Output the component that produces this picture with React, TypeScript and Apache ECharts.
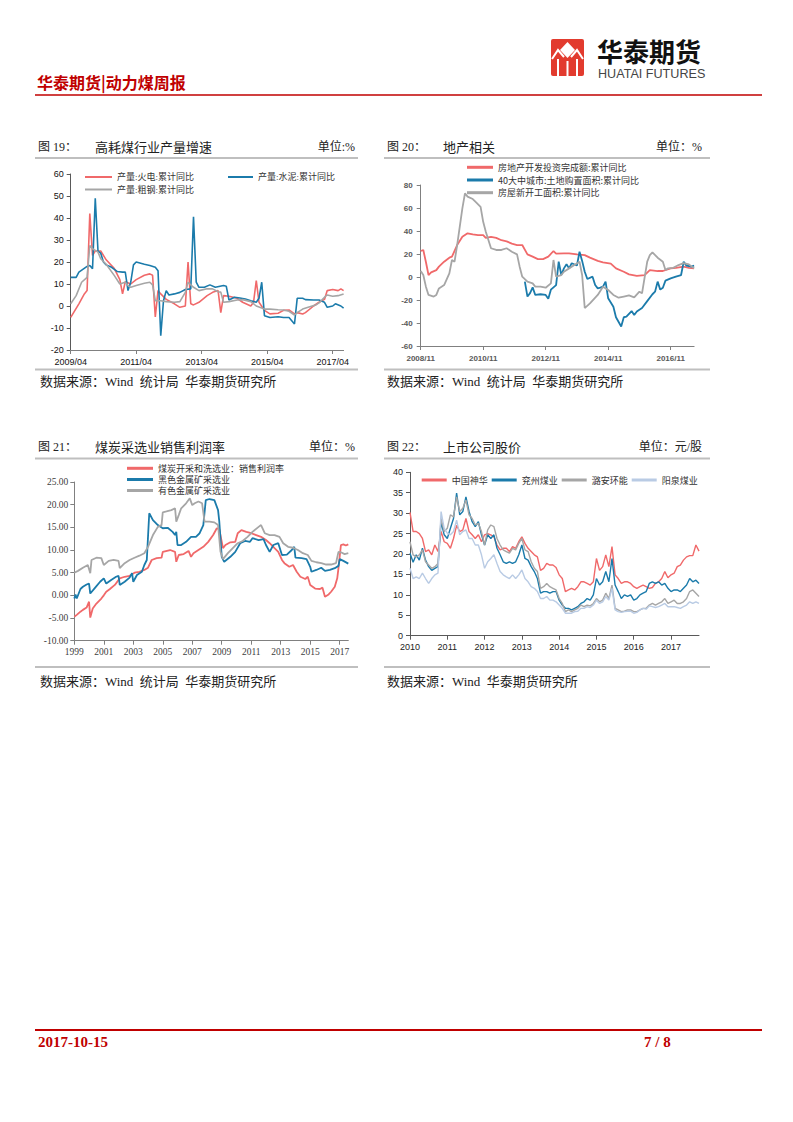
import React, { useEffect, useRef } from "react";
import * as echarts from "echarts";

// ---------------- Figure 19: 高耗煤行业产量增速 ----------------
const fig19Base = "2009/04";
const fig19XTicks = ["2009/04", "2011/04", "2013/04", "2015/04", "2017/04"];
const fig19Power: [string, number][] = [
  ["2009/04", -5.2], ["2009/07", 1], ["2009/09", 5.5], ["2009/10", 7], ["2009/11", 42], ["2009/12", 23],
  ["2010/01", 25], ["2010/03", 25], ["2010/05", 21], ["2010/08", 17], ["2010/10", 12], ["2010/11", 5.5],
  ["2010/12", 11], ["2011/02", 10], ["2011/04", 12], ["2011/07", 14], ["2011/09", 14.6], ["2011/10", 14],
  ["2011/11", -5], ["2011/12", 7], ["2012/01", 5.5], ["2012/03", 3], ["2012/06", 1], ["2012/08", -0.6],
  ["2012/10", 0], ["2012/11", 20], ["2012/12", 1], ["2013/01", 0.5], ["2013/03", 1.7], ["2013/06", 4.7],
  ["2013/08", 6.2], ["2013/10", 7], ["2013/11", -3], ["2013/12", 4.7], ["2014/02", 4.4], ["2014/05", 3.5],
  ["2014/07", 1.7], ["2014/10", 0], ["2014/11", 1.7], ["2014/12", 11.6], ["2015/01", 1.7], ["2015/03", -2],
  ["2015/05", -3.6], ["2015/08", -3.3], ["2015/10", -2], ["2015/12", -1.8], ["2016/02", -3.6], ["2016/03", -3],
  ["2016/05", -3.6], ["2016/06", -3], ["2016/09", 0], ["2016/11", 1.7], ["2017/01", 3], ["2017/02", 7],
  ["2017/04", 7.5], ["2017/06", 7], ["2017/07", 7.8], ["2017/08", 7],
];
const fig19Cement: [string, number][] = [
  ["2009/04", 13], ["2009/06", 13], ["2009/07", 15.4], ["2009/10", 18], ["2009/11", 18.4], ["2009/12", 17],
  ["2010/01", 49], ["2010/02", 25], ["2010/03", 24], ["2010/04", 20], ["2010/05", 18.7], ["2010/07", 17.6],
  ["2010/09", 15.7], ["2010/11", 15.4], ["2010/12", 15.4], ["2011/01", 7], ["2011/02", 10.8], ["2011/03", 18.7],
  ["2011/04", 20], ["2011/07", 19], ["2011/09", 18.4], ["2011/11", 17.6], ["2011/12", 16], ["2012/01", -13.5],
  ["2012/02", 2.4], ["2012/03", 7], ["2012/04", 5], ["2012/06", 5.5], ["2012/08", 6.2], ["2012/10", 7.5],
  ["2012/12", 7.8], ["2013/01", 40.5], ["2013/02", 10.8], ["2013/03", 8.5], ["2013/05", 8.5], ["2013/07", 9.6],
  ["2013/09", 8.5], ["2013/12", 9.3], ["2014/01", 9], ["2014/02", 2.7], ["2014/04", 4], ["2014/06", 3.6],
  ["2014/08", 3.2], ["2014/10", 2.4], ["2014/12", 1.7], ["2015/01", 3.5], ["2015/02", 10.8], ["2015/03", -4.4],
  ["2015/05", -5.2], ["2015/08", -4.9], ["2015/10", -5.2], ["2015/12", -5.2], ["2016/02", -8.2], ["2016/03", 3.5],
  ["2016/05", 3.5], ["2016/06", 2.9], ["2016/09", 2.7], ["2016/11", 2.7], ["2017/01", 1.7], ["2017/02", -0.6],
  ["2017/04", 0], ["2017/05", 1], ["2017/07", 0], ["2017/08", -1],
];
const fig19Steel: [string, number][] = [
  ["2009/04", 1], ["2009/06", 4.7], ["2009/08", 10.8], ["2009/10", 13], ["2009/11", 27.5], ["2009/12", 26],
  ["2010/02", 24.5], ["2010/03", 21.5], ["2010/05", 19], ["2010/08", 13.8], ["2010/10", 10], ["2010/12", 10.8],
  ["2011/01", 9.3], ["2011/02", 8.5], ["2011/04", 9.3], ["2011/07", 10.3], ["2011/09", 10.8], ["2011/10", 9.6],
  ["2011/11", 2.4], ["2012/01", 2.4], ["2012/03", 2], ["2012/06", 1.7], ["2012/08", 2], ["2012/10", 6.2],
  ["2012/11", 10.8], ["2013/01", 8.5], ["2013/03", 7], ["2013/06", 7.8], ["2013/08", 7.8], ["2013/10", 6.5],
  ["2013/11", 6.3], ["2013/12", 1.7], ["2014/02", 2], ["2014/05", 2.7], ["2014/07", 2.9], ["2014/10", 2],
  ["2014/12", 0], ["2015/03", -1.4], ["2015/05", -1.4], ["2015/08", -1.7], ["2015/10", -1.8], ["2015/12", -2.4],
  ["2016/02", -4.1], ["2016/03", -3], ["2016/05", -1.4], ["2016/07", -0.6], ["2016/10", 0.6], ["2016/11", 1.4],
  ["2017/01", 4], ["2017/02", 5], ["2017/04", 4.4], ["2017/06", 4.7], ["2017/08", 5.5],
];

// ---------------- Figure 20: 地产相关 ----------------
const fig20Base = "2008/11";
const fig20XTicks = ["2008/11", "2010/11", "2012/11", "2014/11", "2016/11"];
const fig20Invest: [string, number][] = [
  ["2008/11", 22.6], ["2008/12", 23.5], ["2009/01", 13], ["2009/02", 1.7], ["2009/03", 4], ["2009/05", 6],
  ["2009/06", 9], ["2009/08", 13.3], ["2009/10", 16.8], ["2009/11", 17.7], ["2010/01", 27.8], ["2010/03", 35],
  ["2010/05", 38], ["2010/07", 37], ["2010/09", 36.5], ["2010/11", 36.5], ["2010/12", 34], ["2011/02", 34.8],
  ["2011/04", 34], ["2011/06", 32], ["2011/08", 31], ["2011/10", 29], ["2011/12", 27.8], ["2012/02", 27.8],
  ["2012/04", 19.7], ["2012/06", 17.7], ["2012/08", 15.6], ["2012/10", 15.6], ["2012/12", 17.7], ["2013/02", 22.6],
  ["2013/03", 20.3], ["2013/06", 20.6], ["2013/08", 20.6], ["2013/11", 19.7], ["2014/02", 19], ["2014/04", 16.8],
  ["2014/07", 14], ["2014/09", 12.8], ["2014/12", 11.6], ["2015/02", 7.5], ["2015/05", 4.6], ["2015/07", 2.3],
  ["2015/10", 0.9], ["2016/01", 1.7], ["2016/03", 6], ["2016/06", 5.2], ["2016/08", 5.2], ["2016/11", 7.5],
  ["2017/01", 8], ["2017/04", 9], ["2017/06", 8], ["2017/08", 7.5],
];
const fig20Land: [string, number][] = [
  ["2012/03", -4], ["2012/04", -17], ["2012/05", -14], ["2012/06", -9], ["2012/07", -15.6], ["2012/09", -15],
  ["2012/11", -15.6], ["2012/12", -19], ["2013/01", -11], ["2013/03", -7], ["2013/04", 13.3], ["2013/05", 1.7],
  ["2013/06", 7.5], ["2013/07", 11], ["2013/08", 7.5], ["2013/09", 12], ["2013/11", 10], ["2013/12", 22],
  ["2014/01", 14], ["2014/02", 4.6], ["2014/03", -1.7], ["2014/05", 0.3], ["2014/06", -7], ["2014/07", -9.9],
  ["2014/08", -9.3], ["2014/09", -8.4], ["2014/10", -4], ["2014/11", -18.5], ["2015/01", -25.8], ["2015/02", -35],
  ["2015/04", -43], ["2015/05", -35], ["2015/06", -34.5], ["2015/08", -29.6], ["2015/09", -33], ["2015/10", -30],
  ["2015/12", -27], ["2016/02", -21], ["2016/04", -15], ["2016/05", -12.8], ["2016/06", -4], ["2016/07", -11],
  ["2016/08", -9.3], ["2016/09", -3.2], ["2016/11", -1.2], ["2017/01", 0.3], ["2017/03", 1.7], ["2017/04", 13.3],
  ["2017/05", 10], ["2017/07", 9], ["2017/08", 10],
];
const fig20Starts: [string, number][] = [
  ["2008/11", 5.2], ["2008/12", 1.7], ["2009/01", -8.4], ["2009/02", -15.6], ["2009/04", -17], ["2009/05", -15.6],
  ["2009/06", -9.9], ["2009/08", -7], ["2009/10", 3.2], ["2009/11", 14.8], ["2009/12", 13.3], ["2010/01", 27.8],
  ["2010/03", 59.7], ["2010/04", 72.8], ["2010/05", 69.9], ["2010/07", 67.8], ["2010/08", 65.5], ["2010/10", 61],
  ["2010/11", 48], ["2010/12", 39.4], ["2011/02", 25], ["2011/04", 23.5], ["2011/06", 23.5], ["2011/08", 25],
  ["2011/10", 22], ["2011/12", 19.7], ["2012/01", 9], ["2012/02", 0.3], ["2012/04", -4], ["2012/06", -5.5],
  ["2012/07", -8.4], ["2012/09", -8.4], ["2012/11", -9.3], ["2013/01", -5.5], ["2013/02", 14.8], ["2013/03", 0.3],
  ["2013/05", 1.7], ["2013/06", 4.6], ["2013/08", 7.5], ["2013/10", 10.4], ["2013/12", 13.3], ["2014/01", 1.7],
  ["2014/02", -27], ["2014/04", -23], ["2014/07", -15.6], ["2014/09", -8.4], ["2014/11", -11.3], ["2015/01", -15.6],
  ["2015/03", -18], ["2015/05", -17], ["2015/07", -16], ["2015/09", -17.7], ["2015/11", -12.8], ["2015/12", -14.2],
  ["2016/02", 13.3], ["2016/03", 19], ["2016/04", 21.4], ["2016/06", 16.8], ["2016/08", 13.3], ["2016/09", 6],
  ["2016/10", 7.5], ["2016/12", 8], ["2017/02", 10.4], ["2017/04", 12], ["2017/06", 11], ["2017/08", 7.5],
];

// ---------------- Figure 21: 煤炭采选业销售利润率 ----------------
const fig21Base = "1999/01";
const fig21XTicks = ["1999", "2001", "2003", "2005", "2007", "2009", "2011", "2013", "2015", "2017"];
const fig21Coal: [string, number][] = [
  ["1999/01", -4.7], ["1999/03", -4.3], ["1999/06", -3.6], ["1999/08", -3.2], ["1999/11", -2.7], ["2000/01", -1.4],
  ["2000/02", -4.9], ["2000/04", -2.9], ["2000/07", -1.8], ["2000/11", -0.7], ["2001/01", 0], ["2001/03", 0.8],
  ["2001/06", 1.4], ["2001/10", 2.3], ["2002/02", 3.75], ["2002/06", 4.1], ["2002/10", 4.3], ["2003/02", 5],
  ["2003/06", 5.2], ["2003/10", 5.6], ["2004/01", 6.1], ["2004/04", 7.8], ["2004/08", 8.2], ["2004/12", 8.3],
  ["2005/01", 9.6], ["2005/07", 10], ["2005/11", 9.6], ["2005/12", 7.4], ["2006/02", 8.9], ["2006/06", 9.1],
  ["2006/10", 9.8], ["2006/12", 8.5], ["2007/02", 9.3], ["2007/06", 10], ["2007/10", 10.7], ["2008/02", 11.8],
  ["2008/06", 13.3], ["2008/09", 14.8], ["2008/11", 14.6], ["2009/02", 10.4], ["2009/04", 11.1], ["2009/08", 11.7],
  ["2009/12", 11.8], ["2010/02", 13.7], ["2010/05", 14.4], ["2010/09", 14], ["2011/01", 13.7], ["2011/05", 13.3],
  ["2011/09", 12.9], ["2012/01", 12.2], ["2012/04", 11.5], ["2012/08", 10.4], ["2012/11", 9.6], ["2013/02", 7.8],
  ["2013/04", 7.1], ["2013/08", 6.3], ["2013/11", 6.7], ["2014/02", 5.2], ["2014/05", 4.1], ["2014/09", 3.6],
  ["2014/11", 4.1], ["2015/01", 2.3], ["2015/05", 1.5], ["2015/09", 1.4], ["2015/11", 1.7], ["2016/01", -0.3],
  ["2016/04", 0.2], ["2016/06", 0.8], ["2016/09", 1.9], ["2016/11", 3.75], ["2016/12", 6], ["2017/02", 11.1],
  ["2017/04", 11.25], ["2017/06", 11], ["2017/08", 11.25],
];
const fig21Ferrous: [string, number][] = [
  ["1999/01", -0.7], ["1999/02", 0.2], ["1999/03", -0.7], ["1999/06", 1.4], ["1999/08", 1.9], ["1999/11", 2.4],
  ["2000/01", 2.6], ["2000/02", 0.4], ["2000/06", 1.7], ["2000/10", 3], ["2001/01", 3.75], ["2001/03", 2.6],
  ["2001/07", 3.4], ["2001/11", 4.1], ["2002/01", 4.3], ["2002/02", 2.3], ["2002/06", 3], ["2002/10", 3.9],
  ["2002/12", 4.9], ["2003/01", 3], ["2003/04", 4.5], ["2003/08", 5.2], ["2003/10", 6.7], ["2003/12", 7.8],
  ["2004/02", 18.1], ["2004/05", 16.6], ["2004/09", 15.5], ["2005/01", 14.8], ["2005/05", 14.9], ["2005/09", 14],
  ["2005/11", 13.3], ["2005/12", 14], ["2006/01", 11.1], ["2006/04", 11.1], ["2006/08", 11.8], ["2006/12", 12.9],
  ["2007/04", 12.9], ["2007/07", 13.7], ["2007/10", 15.5], ["2007/12", 21], ["2008/03", 21.25], ["2008/07", 21],
  ["2008/10", 18.8], ["2008/11", 16.3], ["2009/01", 8.5], ["2009/03", 7.4], ["2009/08", 8.5], ["2009/12", 9.6],
  ["2010/04", 11.5], ["2010/08", 12], ["2010/12", 11.8], ["2011/02", 12.6], ["2011/07", 12.2], ["2011/11", 12.4],
  ["2012/01", 11.1], ["2012/04", 9.6], ["2012/07", 11.1], ["2012/11", 11.5], ["2013/02", 8.9], ["2013/06", 9],
  ["2013/10", 10], ["2013/12", 10.7], ["2014/01", 8.3], ["2014/06", 8.2], ["2014/10", 8], ["2015/01", 6.3],
  ["2015/02", 5.2], ["2015/06", 5.6], ["2015/10", 6.1], ["2016/01", 5.4], ["2016/05", 5.6], ["2016/09", 6],
  ["2016/12", 6.5], ["2017/01", 8], ["2017/04", 7.6], ["2017/08", 7],
];
const fig21Nonferrous: [string, number][] = [
  ["1999/01", 5], ["1999/04", 5.4], ["1999/08", 6.1], ["1999/12", 6.7], ["2000/02", 4.9], ["2000/03", 7.8],
  ["2000/07", 8.3], ["2000/11", 8.2], ["2001/01", 6.7], ["2001/05", 7.6], ["2001/09", 7.8], ["2002/01", 7.6],
  ["2002/02", 6], ["2002/06", 7.1], ["2002/10", 7.8], ["2003/02", 8.3], ["2003/06", 8.75], ["2003/10", 9.3],
  ["2004/01", 10.7], ["2004/05", 13.3], ["2004/09", 15.1], ["2004/12", 15.5], ["2005/01", 18.3], ["2005/04", 18.5],
  ["2005/08", 18.8], ["2005/11", 19.2], ["2005/12", 16.25], ["2006/02", 17.7], ["2006/04", 19.2], ["2006/08", 20.3],
  ["2006/11", 21.4], ["2007/01", 19.9], ["2007/03", 20.3], ["2007/06", 20.7], ["2007/09", 20.3], ["2007/11", 16.25],
  ["2008/03", 16.25], ["2008/07", 16.1], ["2008/10", 15.5], ["2008/12", 9.6], ["2009/02", 8], ["2009/06", 9.3],
  ["2009/10", 10.4], ["2010/02", 11.5], ["2010/06", 12], ["2010/10", 12.9], ["2011/02", 14], ["2011/07", 15.1],
  ["2011/09", 15.5], ["2011/12", 13.7], ["2012/04", 13.3], ["2012/08", 13.3], ["2012/12", 12.9], ["2013/03", 11.5],
  ["2013/07", 10.7], ["2013/11", 10.5], ["2014/03", 10], ["2014/07", 9.3], ["2014/11", 8.9], ["2015/02", 7.6],
  ["2015/06", 7.3], ["2015/10", 7.1], ["2016/02", 6.8], ["2016/06", 6.8], ["2016/10", 7.1], ["2016/12", 9.6],
  ["2017/02", 9.5], ["2017/05", 9.1], ["2017/08", 9.3],
];

// ---------------- Figure 22: 上市公司股价 (monthly, from 2010/01) ----------------
const fig22Base = "2010/01";
const fig22XTicks = ["2010", "2011", "2012", "2013", "2014", "2015", "2016", "2017"];
const fig22Shenhua = [
  30.2, 25.5, 25.5, 25, 23.8, 20.6, 21, 19.8, 22.2, 20.6,
  25.5, 23, 22.6, 21.4, 23.8, 27, 25.5, 25.9, 28.7, 25.5,
  24.7, 23.8, 24.7, 23, 24.7, 25, 24.7, 24.2, 22.2, 21,
  21.4, 21.4, 20.6, 21.8, 21.4, 23, 24.2, 22.6, 21.4, 20.6,
  19.8, 19.3, 16, 16.5, 17.7, 17.3, 17.3, 16.7, 14.9, 14,
  10.8, 11.2, 11.6, 11.2, 12, 13.2, 13.2, 12.8, 12.4, 13.2,
  18.9, 16, 16.9, 19.8, 16.9, 21.8, 14.9, 14, 12.8, 13.2,
  13.2, 12.8, 12, 11.6, 12, 12.4, 12, 11.6, 11.8, 12.8,
  13.2, 14, 15.7, 14.2, 14.9, 15.3, 16.9, 17.3, 18.5, 19.3,
  19.6, 19.6, 22.2, 20.7,
];
const fig22Yanzhou = [
  20.2, 18, 19.8, 18.5, 21.4, 18.5, 16.9, 16, 16.5, 16.9,
  27.9, 24.7, 23.8, 26.3, 28.7, 34.9, 29.6, 30.4, 34, 30.4,
  27.9, 26.7, 27.9, 24.7, 22.2, 24.7, 23.8, 24.7, 21.4, 19.8,
  18.1, 17.7, 18.1, 17.7, 18.1, 19.8, 22.2, 18.9, 18.5, 16.9,
  15.7, 14, 10.4, 10.8, 10.8, 10.4, 10.8, 10.8, 8.7, 7.5,
  6.7, 6.7, 6.3, 6.7, 7.1, 7.9, 8.3, 9.1, 8.7, 10,
  14, 12.4, 13.2, 15.7, 13.2, 18.9, 12.4, 10.8, 9.1, 10,
  9.6, 10, 8.7, 9.1, 10, 10.4, 10.8, 12.8, 13.2, 12.8,
  13.2, 12.4, 12.8, 11.6, 10.8, 11.2, 11.2, 10.8, 11.6, 12.4,
  14, 13.2, 13.6, 12.8,
];
const fig22Luan = [
  23, 19.8, 19.3, 19.8, 21, 18.1, 17.3, 16.5, 16.9, 17.7,
  28.7, 25.5, 26.3, 29.6, 29.1, 34, 30.4, 31.2, 33.2, 29.6,
  28.7, 27.1, 27.5, 25.5, 22.2, 25.9, 27.1, 26.7, 23.8, 22.2,
  21, 20.6, 20.2, 21.4, 21, 22.6, 23.8, 21, 20.6, 18.1,
  16.5, 15.7, 11.6, 12, 12.8, 12, 11.6, 11.2, 9.1, 7.9,
  5.9, 6.3, 5.9, 6.3, 6.7, 7.5, 7.1, 7.5, 7.3, 7.9,
  9.1, 8.3, 8.7, 10.4, 9.1, 12.4, 6.7, 6.3, 5.9, 6,
  6.3, 6.3, 5.9, 5.9, 6.3, 6.7, 6.7, 7.5, 7.9, 7.5,
  7.9, 8.3, 9.1, 7.9, 8.3, 8.7, 7.9, 7.9, 8.3, 9.1,
  10.8, 11.2, 10.4, 9.6,
];
const fig22Yangquan = [
  16.5, 14, 14.4, 14, 15.3, 14, 12.8, 14, 14.9, 15.3,
  30.4, 26.3, 25.1, 24.7, 25.5, 28.3, 24.7, 25.5, 25.9, 23.8,
  23.8, 22.2, 22.2, 19.8, 16.5, 18.1, 18.9, 19.8, 17.7, 15.7,
  14.9, 14.4, 14, 14.9, 14, 14.9, 16.1, 14, 13.2, 12,
  11.6, 10.8, 9.1, 9.1, 9.6, 8.7, 8.7, 8.3, 7.5, 6.7,
  5.5, 5.5, 5.5, 5.9, 6, 6.7, 6.7, 7.1, 6.9, 7.5,
  8.7, 7.9, 8.3, 9.6, 8.7, 11.6, 6.3, 5.9, 5.7, 5.9,
  6, 6, 5.5, 5.7, 6.3, 6.7, 6.5, 7.3, 7.1, 6.9,
  7.1, 7.5, 7.9, 7.1, 7.1, 7.1, 6.9, 6.7, 7.1, 7.5,
  8.3, 7.9, 8.3, 7.9,
];

// ---------------- helpers ----------------
const parseYM = (s: string) => s.split("/").map(Number);
const monthIndex = (d: string, base: string) => {
  const [y, m] = parseYM(d);
  const [by, bm] = parseYM(base);
  return (y - by) * 12 + (m - bm);
};
const monthLabel = (i: number, base: string) => {
  const [by, bm] = parseYM(base);
  const t = bm - 1 + i;
  return `${by + Math.floor(t / 12)}/${String((t % 12) + 1).padStart(2, "0")}`;
};
const toXY = (arr: [string, number][], base: string) => arr.map(([d, v]) => [monthIndex(d, base), v]);
const fig22Months = fig22Shenhua.map((_, i) => monthLabel(i, fig22Base));

const RED = "#f0696a";
const BLUE = "#1b7bab";
const GRAY = "#a6a6a6";
const LBLUE = "#b9cbe4";

const SANS = "'Liberation Sans', Arial, sans-serif";
const MIXSERIF = "'Liberation Serif', 'Noto Sans CJK SC', serif";
const CJK = "'Noto Sans CJK SC', sans-serif";

function text(x: number, y: number, s: string, o: any = {}) {
  const fs = o.fontSize || 12;
  return {
    type: "text",
    x,
    y,
    silent: true,
    style: {
      text: s,
      fill: o.fill || "#222",
      fontSize: fs,
      lineHeight: fs,
      fontFamily: o.fontFamily || MIXSERIF,
      fontWeight: o.fontWeight || "normal",
      align: o.align || "left",
      verticalAlign: "middle",
    },
  };
}
function hline(x1: number, x2: number, y: number, color: string, w: number) {
  return { type: "line", silent: true, shape: { x1, y1: y, x2, y2: y }, style: { stroke: color, lineWidth: w } };
}

function buildOption(): any {
  const yAxisBase = (grid: number, min: number, max: number, interval: number, color: string, label: any) => ({
    type: "value",
    gridIndex: grid,
    min,
    max,
    interval,
    axisLine: { show: true, lineStyle: { color, width: 1 } },
    axisTick: { show: true, length: 4, lineStyle: { color } },
    splitLine: { show: false },
    axisLabel: label,
  });
  const xValue = (grid: number, max: number, ticks: string[], color: string, label: any) => ({
    type: "value",
    gridIndex: grid,
    min: 0,
    max,
    interval: 24,
    axisLine: { show: true, onZero: false, lineStyle: { color, width: 1 } },
    axisTick: { show: true, length: 4, lineStyle: { color } },
    splitLine: { show: false },
    axisLabel: {
      ...label,
      showMaxLabel: false,
      formatter: (v: number) => (v % 24 === 0 ? ticks[v / 24] ?? "" : ""),
    },
  });
  const line = (name: string, xi: number, data: any, color: string, width: number) => ({
    name,
    type: "line",
    xAxisIndex: xi,
    yAxisIndex: xi,
    data,
    showSymbol: false,
    symbol: "none",
    silent: true,
    lineStyle: { color, width },
    itemStyle: { color },
  });
  const legend = (names: string[], left: number, cy: number, o: any = {}) => ({
    data: names,
    left,
    top: cy - 5.5,
    orient: "horizontal",
    padding: 0,
    itemWidth: o.itemWidth || 26,
    itemHeight: o.itemHeight || 2.5,
    itemGap: o.itemGap || 10,
    icon: "rect",
    selectedMode: false,
    textStyle: {
      fontSize: o.fontSize || 9,
      lineHeight: 11,
      color: o.color || "#333",
      fontFamily: o.fontFamily || CJK,
    },
  });

  const n19 = ["产量:火电:累计同比", "产量:水泥:累计同比", "产量:粗钢:累计同比"];
  const n20 = ["房地产开发投资完成额:累计同比", "40大中城市:土地购置面积:累计同比", "房屋新开工面积:累计同比"];
  const n21 = ["煤炭开采和洗选业：销售利润率", "黑色金属矿采选业", "有色金属矿采选业"];
  const n22 = ["中国神华", "兖州煤业", "潞安环能", "阳泉煤业"];

  const lab19 = { fontSize: 9, color: "#111", fontFamily: SANS, margin: 7 };
  const lab20 = { fontSize: 8, color: "#595959", fontFamily: SANS, fontWeight: "bold", margin: 8 };
  const lab21 = { fontSize: 9.5, color: "#404040", fontFamily: "'Liberation Serif', serif", margin: 6 };
  const lab22 = { fontSize: 9, color: "#222", fontFamily: SANS, margin: 7 };

  const graphics: any[] = [
    // header
    text(37, 82, "华泰期货|动力煤周报", { fill: "#c00000", fontSize: 16, fontWeight: "bold", fontFamily: CJK }),
    hline(35, 762, 95, "#c00000", 1.6),
    {
      type: "group",
      silent: true,
      children: [
        { type: "rect", shape: { x: 551, y: 39, width: 33, height: 37, r: 2 }, style: { fill: "#e23b2e" } },
        { type: "polygon", shape: { points: [[567.5, 42], [575, 50], [567.5, 58], [560, 50]] }, style: { fill: "#fff" } },
        { type: "polyline", shape: { points: [[552, 59], [558, 50], [564, 57]] }, style: { stroke: "#fff", lineWidth: 2, fill: null } },
        { type: "polyline", shape: { points: [[583, 59], [577, 50], [571, 57]] }, style: { stroke: "#fff", lineWidth: 2, fill: null } },
        { type: "rect", shape: { x: 557, y: 59, width: 2, height: 17 }, style: { fill: "#fff" } },
        { type: "rect", shape: { x: 566.5, y: 61, width: 2, height: 15 }, style: { fill: "#fff" } },
        { type: "rect", shape: { x: 576, y: 59, width: 2, height: 17 }, style: { fill: "#fff" } },
      ],
    },
    text(597, 50, "华泰期货", { fill: "#111", fontSize: 26, fontWeight: "bold", fontFamily: CJK }),
    text(598, 73.5, "HUATAI FUTURES", { fill: "#444", fontSize: 12.6, fontFamily: SANS }),

    // figure 19 / 20 headings
    text(38, 147, "图 19：", { fontSize: 12 }),
    text(95, 147, "高耗煤行业产量增速", { fontSize: 13 }),
    text(355, 147, "单位:%", { fontSize: 12, align: "right" }),
    hline(35, 358, 158, "#bfbfbf", 2),
    text(387, 147, "图 20：", { fontSize: 12 }),
    text(443, 147, "地产相关", { fontSize: 13 }),
    text(702, 147, "单位：%", { fontSize: 12, align: "right" }),
    hline(384, 710, 158, "#bfbfbf", 2),
    hline(35, 358, 369.5, "#bfbfbf", 2),
    hline(384, 710, 369.5, "#bfbfbf", 2),
    text(40, 381.5, "数据来源：Wind  统计局  华泰期货研究所", { fontSize: 13 }),
    text(387, 381.5, "数据来源：Wind  统计局  华泰期货研究所", { fontSize: 13 }),

    // figure 21 / 22 headings
    text(38, 447, "图 21：", { fontSize: 12 }),
    text(95, 447, "煤炭采选业销售利润率", { fontSize: 13 }),
    text(355, 447, "单位：%", { fontSize: 12, align: "right" }),
    hline(35, 358, 458.5, "#bfbfbf", 2),
    text(387, 447, "图 22：", { fontSize: 12 }),
    text(443, 447, "上市公司股价", { fontSize: 13 }),
    text(702, 447, "单位：元/股", { fontSize: 12, align: "right" }),
    hline(384, 710, 458.5, "#bfbfbf", 2),
    hline(35, 358, 667, "#bfbfbf", 2),
    hline(384, 710, 667, "#bfbfbf", 2),
    text(40, 681.5, "数据来源：Wind  统计局  华泰期货研究所", { fontSize: 13 }),
    text(387, 681.5, "数据来源：Wind  华泰期货研究所", { fontSize: 13 }),

    // footer
    hline(35, 762, 1030, "#c00000", 2.2),
    text(38, 1042, "2017-10-15", { fill: "#c00000", fontSize: 15, fontWeight: "bold", fontFamily: "'Liberation Serif', serif" }),
    text(644, 1042, "7 / 8", { fill: "#c00000", fontSize: 15, fontWeight: "bold", fontFamily: "'Liberation Serif', serif" }),
  ];

  return {
    animation: false,
    backgroundColor: "#ffffff",
    grid: [
      { left: 70.7, top: 174, width: 272.9, height: 176, containLabel: false, outerBoundsMode: "none" },
      { left: 420.7, top: 185, width: 273.4, height: 161, containLabel: false, outerBoundsMode: "none" },
      { left: 74.3, top: 482, width: 274, height: 158.7, containLabel: false, outerBoundsMode: "none" },
      { left: 410, top: 472.3, width: 289, height: 163.4, containLabel: false, outerBoundsMode: "none" },
    ],
    xAxis: [
      xValue(0, 100, fig19XTicks, "#808080", lab19),
      xValue(1, 105, fig20XTicks, "#808080", lab20),
      xValue(2, 223, fig21XTicks, "#808080", lab21),
      {
        type: "category",
        gridIndex: 3,
        data: fig22Months,
        boundaryGap: false,
        axisLine: { show: true, onZero: false, lineStyle: { color: "#595959", width: 1 } },
        axisTick: { show: true, interval: 11, length: 4, lineStyle: { color: "#595959" } },
        splitLine: { show: false },
        axisLabel: { ...lab22, interval: 11, formatter: (v: string) => fig22XTicks[fig22XTicks.indexOf(v.slice(0, 4))] },
      },
    ],
    yAxis: [
      yAxisBase(0, -20, 60, 10, "#595959", lab19),
      yAxisBase(1, -60, 80, 20, "#808080", lab20),
      yAxisBase(2, -10, 25, 5, "#808080", { ...lab21, formatter: (v: number) => v.toFixed(2) }),
      yAxisBase(3, 0, 40, 5, "#595959", lab22),
    ],
    legend: [
      legend([n19[0]], 85, 177, { itemWidth: 27, itemHeight: 2, fontFamily: MIXSERIF, fontSize: 9 }),
      legend([n19[1]], 228, 177, { itemWidth: 25, itemHeight: 2, fontFamily: MIXSERIF, fontSize: 9 }),
      legend([n19[2]], 85, 189.5, { itemWidth: 27, itemHeight: 2, fontFamily: MIXSERIF, fontSize: 9 }),
      legend([n20[0]], 467, 167.3, { itemHeight: 3 }),
      legend([n20[1]], 467, 180, { itemHeight: 3 }),
      legend([n20[2]], 467, 192.7, { itemHeight: 3 }),
      legend([n21[0]], 127, 468.3, { itemHeight: 3 }),
      legend([n21[1]], 127, 479.5, { itemHeight: 3 }),
      legend([n21[2]], 127, 490.5, { itemHeight: 3 }),
      legend(n22, 421.7, 480, { itemWidth: 25, itemHeight: 3, itemGap: 4 }),
    ],
    series: [
      line(n19[0], 0, toXY(fig19Power, fig19Base), RED, 1.6),
      line(n19[1], 0, toXY(fig19Cement, fig19Base), BLUE, 1.6),
      line(n19[2], 0, toXY(fig19Steel, fig19Base), GRAY, 1.6),
      line(n20[0], 1, toXY(fig20Invest, fig20Base), RED, 1.8),
      line(n20[1], 1, toXY(fig20Land, fig20Base), BLUE, 1.8),
      line(n20[2], 1, toXY(fig20Starts, fig20Base), GRAY, 1.8),
      line(n21[0], 2, toXY(fig21Coal, fig21Base), RED, 1.8),
      line(n21[1], 2, toXY(fig21Ferrous, fig21Base), BLUE, 1.8),
      line(n21[2], 2, toXY(fig21Nonferrous, fig21Base), GRAY, 1.8),
      line(n22[0], 3, fig22Shenhua, RED, 1.4),
      line(n22[1], 3, fig22Yanzhou, BLUE, 1.4),
      line(n22[2], 3, fig22Luan, GRAY, 1.4),
      line(n22[3], 3, fig22Yangquan, LBLUE, 1.4),
    ],
    graphic: { elements: graphics },
  };
}

export default function App() {
  const ref = useRef<HTMLDivElement>(null);
  useEffect(() => {
    if (!ref.current) return;
    const chart = echarts.init(ref.current, null, { renderer: "svg" });
    chart.setOption(buildOption());
    return () => chart.dispose();
  }, []);
  return (
    <div
      ref={ref}
      style={{ position: "absolute", left: 0, top: 0, width: 793, height: 1122, background: "#fff" }}
    />
  );
}
